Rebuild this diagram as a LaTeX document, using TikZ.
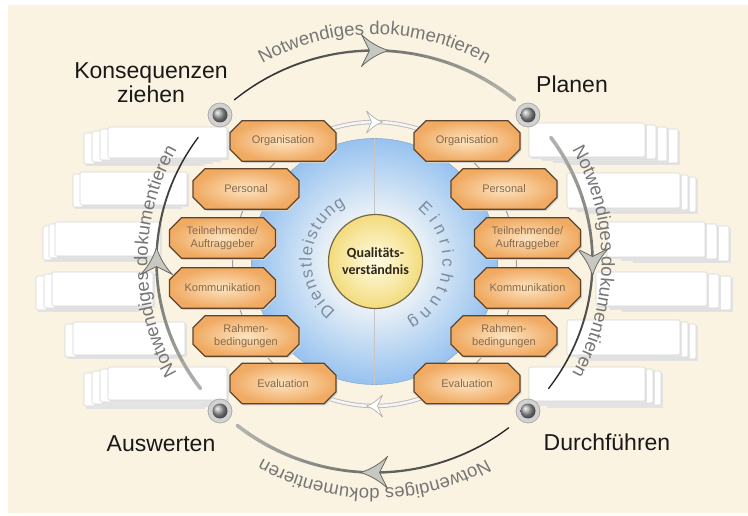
\documentclass[tikz,border=0pt]{standalone}
\usepackage{fontspec}
\setmainfont{Liberation Sans}
\newfontfamily\carlito{Carlito}
\usetikzlibrary{decorations.text,calc}

\definecolor{cream}{RGB}{251,243,226}
\definecolor{arcdark}{RGB}{35,35,35}
\definecolor{arclight}{RGB}{178,178,172}
\definecolor{arrfill}{RGB}{200,200,194}
\definecolor{arrdraw}{RGB}{105,105,100}
\definecolor{ctext}{RGB}{118,118,118}
\definecolor{btext}{RGB}{125,140,160}
\definecolor{bluein}{RGB}{232,240,246}
\definecolor{blueout}{RGB}{150,194,240}
\definecolor{blueedge}{RGB}{140,172,210}
\definecolor{octin}{RGB}{253,228,194}
\definecolor{octout}{RGB}{240,170,98}
\definecolor{octborder}{RGB}{95,68,45}
\definecolor{octtext}{RGB}{135,105,75}
\definecolor{yelin}{RGB}{255,252,230}
\definecolor{yelout}{RGB}{243,220,125}
\definecolor{yeledge}{RGB}{120,105,70}
\definecolor{yeltext}{RGB}{45,38,25}
\definecolor{labeltext}{RGB}{25,25,25}

\pgfdeclareradialshading{blueshade}{\pgfpoint{0bp}{0bp}}{color(0bp)=(bluein); color(10bp)=(bluein); color(25bp)=(blueout); color(50bp)=(blueout)}

\tikzset{
  octshape/.style={inner color=octin, outer color=octout, draw=octborder, line width=1.3pt, line join=round},
  octlabel/.style={minimum width=107pt, minimum height=42pt, inner sep=0pt, align=center,
    font=\fontsize{11}{13}\selectfont, text=octtext},
  corner/.style={font=\fontsize{23}{24}\selectfont, text=labeltext, align=center, inner sep=0pt},
  dotring/.style={circle, minimum size=24pt, inner sep=0pt, fill=gray!35, draw=gray!65, line width=0.8pt},
  bigarr/.pic={\path[fill=arrfill, draw=arrdraw, line width=0.8pt, line join=round]
    (14,0) .. controls (4,3) and (-6,9) .. (-13,16) -- (-5,0) -- (-13,-16) .. controls (-6,-9) and (4,-3) .. (14,0) -- cycle;},
  smallarr/.pic={\path[fill=white, draw=gray!60, line width=0.7pt, line join=round]
    (8,0) .. controls (2,2) and (-3,6) .. (-8,11) -- (-3,0) -- (-8,-11) .. controls (-3,-6) and (2,-2) .. (8,0) -- cycle;}
}

\newcommand\octa[4]{% name, x, y, text
  \begin{scope}[shift={(#2,#3)}]
    \fill[black!18] (-39.5,18.8) -- (42.3,18.8) -- (54.3,6.8) -- (54.3,-9.8) -- (42.3,-21.8)
        -- (-39.5,-21.8) -- (-51.5,-9.8) -- (-51.5,6.8) -- cycle;
    \path[octshape] (-41,20.3) -- (41,20.3) -- (53,8.3) -- (53,-8.3) -- (41,-20.3)
        -- (-41,-20.3) -- (-53,-8.3) -- (-53,8.3) -- cycle;
  \end{scope}
  \node[octlabel] (#1) at (#2,#3) {#4};}

\newcommand\pagestack[6]{%
  \foreach \k in {#5,...,0}{%
    \pgfmathsetmacro\sx{\k*(#6)}%
    \pgfmathsetmacro\sy{-\k*2}%
    \fill[gray!22] (#1+\sx+1.5,#4+\sy-2.5) rectangle (#2+\sx+1.5,#3+\sy-2.5);
    \draw[gray!32, fill=white, rounded corners=1.5pt, line width=0.6pt] (#1+\sx,#4+\sy) rectangle (#2+\sx,#3+\sy);
  }}

\newcommand\gradarc[3]{%
  \foreach \i in {0,...,23}{%
    \pgfmathsetmacro\ga{#1+(#2-#1)*\i/24}%
    \pgfmathsetmacro\gb{#1+(#2-#1)*(\i+1)/24}%
    \pgfmathsetmacro\gt{abs(#3-\i/23)}%
    \pgfmathtruncatemacro\gp{100*(1-\gt)}%
    \pgfmathsetmacro\gw{1.3+2.4*\gt}%
    \draw[line width=\gw pt, color=arcdark!\gp!arclight, line cap=round]
      ([shift={(\ga:218 and 211)}]C) arc[start angle=\ga, end angle=\gb, x radius=218, y radius=211];
  }}

\newcommand\arctext[2]{%
  \path[decorate, decoration={text along path, text align=center,
      text={|\fontsize{18.5}{20}\selectfont\color{ctext}|Notwendiges dokumentieren}}]
    ([shift={(#1:227)}]C) arc[start angle=#1, end angle=#2, radius=227];}

\begin{document}
\begin{tikzpicture}[x=1pt,y=1pt]
\useasboundingbox (0,0) rectangle (748,515);
\fill[white] (0,0) rectangle (748,515);
\fill[cream] (8,2) rectangle (748,510);
\coordinate (C) at (374.5,253.5);
\coordinate (Cr) at (374.5,251);

% ---------- pages left
\pagestack{108}{227}{388}{357}{3}{-8}
\pagestack{80}{187}{343}{310}{1}{-7}
\pagestack{55}{160}{293}{259}{2}{-6}
\pagestack{52}{153}{243}{209}{2}{-8}
\pagestack{73}{185}{193}{160}{1}{-8}
\pagestack{108}{227}{148}{115}{3}{-8}
% ---------- pages right
\pagestack{529}{645}{392}{358}{3}{11}
\pagestack{567}{680}{342}{307}{2}{8}
\pagestack{607}{705}{293}{258}{2}{12}
\pagestack{596}{707}{243}{209}{2}{12}
\pagestack{567}{680}{195}{160}{2}{8}
\pagestack{529}{645}{148}{114}{2}{8}

% ---------- outer cycle
\gradarc{130}{50}{0}
\gradarc{36}{-37}{1}
\gradarc{-52}{-129}{0}
\gradarc{217}{144}{1}
\arctext{135}{45}
\arctext{45}{-45}
\arctext{-45}{-135}
\arctext{225}{135}
\pic[rotate=0] at ([shift={(90:218 and 211)}]C) {bigarr};
\pic[rotate=-90] at ([shift={(0:218 and 211)}]C) {bigarr};
\pic[rotate=180] at ([shift={(-90:218 and 211)}]C) {bigarr};
\pic[rotate=90] at ([shift={(180:218 and 211)}]C) {bigarr};

% ---------- blue disc
\path[shading=blueshade, draw=blueedge, line width=0.6pt] (C) circle[radius=123];
\draw[gray!45, line width=0.6pt] ([yshift=123]C) -- ([yshift=-123]C);
\path[decorate, decoration={text along path, text align=fit to path,
    text={|\fontsize{17}{17}\selectfont\color{btext}|Dienstleistung}}]
  ([shift={(232:63)}]C) arc[start angle=232, end angle=117, radius=63];
\path[decorate, decoration={text along path, text align=fit to path,
    text={|\fontsize{17}{17}\selectfont\color{btext}|Einrichtung}}]
  ([shift={(51:68)}]C) arc[start angle=51, end angle=-61, radius=68];

% ---------- inner ring
\draw[gray!75, line width=1pt] (Cr) circle[radius=142];
\draw[gray!55, line width=4.4pt] ([shift={(130:142)}]Cr) arc[start angle=130, end angle=50, radius=142];
\draw[white!92!gray, line width=2.6pt] ([shift={(130:142)}]Cr) arc[start angle=130, end angle=50, radius=142];
\draw[gray!55, line width=4.4pt] ([shift={(-50:142)}]Cr) arc[start angle=-50, end angle=-130, radius=142];
\draw[white!92!gray, line width=2.6pt] ([shift={(-50:142)}]Cr) arc[start angle=-50, end angle=-130, radius=142];
\pic[rotate=0] at ([shift={(90:142)}]Cr) {smallarr};
\pic[rotate=180] at ([shift={(-90:142)}]Cr) {smallarr};

% ---------- octagons
\octa{lorg}{283}{374}{Organisation}
\octa{lper}{246}{326}{Personal}
\octa{ltei}{222.5}{277}{Teilnehmende/\\Auftraggeber}
\octa{lkom}{222.5}{227}{Kommunikation}
\octa{lrah}{246}{179}{Rahmen-\\bedingungen}
\octa{leva}{283}{131.5}{Evaluation}
\octa{rorg}{467}{374}{Organisation}
\octa{rper}{504}{326}{Personal}
\octa{rtei}{527.5}{277}{Teilnehmende/\\Auftraggeber}
\octa{rkom}{527.5}{227}{Kommunikation}
\octa{rrah}{504}{179}{Rahmen-\\bedingungen}
\octa{reva}{467}{131.5}{Evaluation}

% ---------- centre
\node[circle, minimum size=94pt, inner sep=0pt, inner color=yelin, outer color=yelout,
      draw=yeledge, line width=1.2pt, align=center,
      font=\carlito\bfseries\fontsize{14}{17}\selectfont, text=yeltext]
      (qual) at (375.5,253.5) {Qualitäts-\\verständnis};

% ---------- corner dots and labels
\node[dotring] (dk) at (220,400) {};
\node[dotring] (dp) at (528,400) {};
\node[dotring] (da) at (220,104) {};
\node[dotring] (dd) at (528,104) {};
\foreach \d in {dk,dp,da,dd}{\shade[ball color=gray!75] (\d) circle[radius=7.5];}

\node[corner] (konseq) at (151,432) {Konsequenzen\\ziehen};
\node[corner] (planen) at (572,431) {Planen};
\node[corner] (ausw) at (161,71) {Auswerten};
\node[corner] (durch) at (607,73) {Durchführen};
\end{tikzpicture}
\end{document}
